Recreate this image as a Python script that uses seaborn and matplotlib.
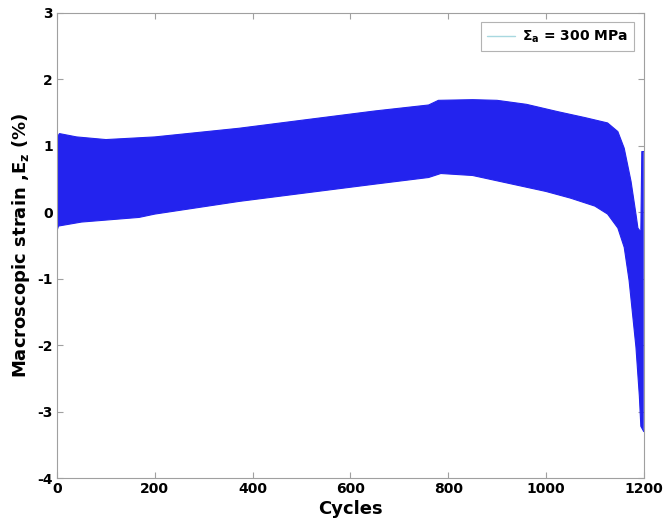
import numpy as np
import matplotlib
matplotlib.use("Agg")
import matplotlib.pyplot as plt
import seaborn as sns
from matplotlib.lines import Line2D

# envelope of the strain oscillation
upper_cycles = [0, 5, 40, 100, 200, 372, 500, 650, 760, 780, 850, 900, 960,
                1024, 1080, 1126, 1147, 1160, 1174, 1184, 1188, 1194, 1196, 1200]
upper_strain = [1.12, 1.18, 1.13, 1.09, 1.13, 1.26, 1.38, 1.52, 1.61, 1.68, 1.69,
                1.68, 1.62, 1.51, 1.42, 1.34, 1.21, 0.96, 0.46, -0.03, -0.24,
                -0.30, 0.91, 0.91]

lower_cycles = [0, 3, 50, 168, 200, 372, 500, 650, 760, 785, 850, 900, 1000,
                1050, 1100, 1126, 1147, 1160, 1170, 1177, 1184, 1191, 1194, 1200]
lower_strain = [-0.28, -0.21, -0.15, -0.08, -0.03, 0.16, 0.28, 0.42, 0.52, 0.58,
                0.55, 0.47, 0.31, 0.21, 0.09, -0.03, -0.24, -0.53, -1.03, -1.53,
                -2.03, -2.77, -3.22, -3.30]

x_ticks = [0, 200, 400, 600, 800, 1000, 1200]
y_ticks = [-4, -3, -2, -1, 0, 1, 2, 3]
legend_label = r"$\Sigma_\mathbf{a}$ = 300 MPa"

sns.set_style("ticks")
plt.rcParams["font.family"] = ["DejaVu Sans"]
plt.rcParams["font.weight"] = "bold"
plt.rcParams["mathtext.fontset"] = "dejavusans"
plt.rcParams["axes.unicode_minus"] = False

band_color = "#2323ee"
edge_gray = "#a0a0a0"

fig = plt.figure(figsize=(6.63, 5.22), dpi=100)
ax = fig.add_axes([0.086, 0.084, 0.885, 0.892])

poly_x = np.r_[upper_cycles, lower_cycles[::-1]]
poly_y = np.r_[upper_strain, lower_strain[::-1]]
ax.fill(poly_x, poly_y, color=band_color, lw=0)

sns.lineplot(x=upper_cycles, y=upper_strain, ax=ax, color=band_color, lw=0.8)
sns.lineplot(x=lower_cycles, y=lower_strain, ax=ax, color=band_color, lw=0.8)

ax.set_xlim(0, 1200)
ax.set_ylim(-4, 3)
ax.set_xticks(x_ticks)
ax.set_yticks(y_ticks)
ax.tick_params(direction="in", length=4, width=0.8, color=edge_gray,
               labelcolor="black", labelsize=10, top=True, right=True, pad=3)
for lab in ax.get_xticklabels() + ax.get_yticklabels():
    lab.set_fontweight("bold")
for sp in ax.spines.values():
    sp.set_color(edge_gray)
    sp.set_linewidth(0.8)

ax.set_xlabel("Cycles", fontsize=13, fontweight="bold", labelpad=3,
              color="black")
ax.set_ylabel(r"Macroscopic strain ,E$_\mathbf{z}$ (%)", fontsize=13,
              fontweight="bold", labelpad=4, color="black")

handle = Line2D([], [], color="#a8d8e0", lw=1.0)
leg = ax.legend([handle], [legend_label], loc="upper right", fontsize=10,
                frameon=True, fancybox=False, borderaxespad=0.7,
                handlelength=2.0, handletextpad=0.5, borderpad=0.45)
leg.get_frame().set_edgecolor(edge_gray)
leg.get_frame().set_linewidth(0.8)
for t in leg.get_texts():
    t.set_fontweight("bold")
    t.set_color("black")

fig.savefig("out.png", dpi=100)
